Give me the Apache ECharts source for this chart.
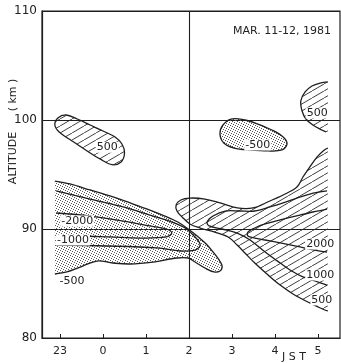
<!DOCTYPE html>
<html>
<head>
<meta charset="utf-8">
<script src="https://cdn.jsdelivr.net/npm/echarts@6/dist/echarts.min.js"></script>
<style>
html, body { margin: 0; padding: 0; background: #fff; }
#chart { width: 341px; height: 363px; }
</style>
</head>
<body>
<div id="chart"></div>
<script>
// x in hours JST, 0 = midnight, negative = previous evening (-1 = 23h)
var hourMin = -1.419, hourMax = 5.512;
var altMin = 80, altMax = 110;

// +500 blob, upper left (closed)
var pos500UpperLeft = [
    [-1.12, 99.54], [-1.05, 100.18], [-0.86, 100.46], [-0.60, 100.09], [-0.30, 99.54],
    [0.00, 98.99], [0.28, 98.44], [0.44, 97.80], [0.50, 96.97], [0.42, 96.15],
    [0.21, 95.90], [-0.07, 96.43], [-0.37, 97.16], [-0.72, 98.08], [-1.02, 98.90]
];
// -500 blob, upper middle (closed)
var neg500Upper = [
    [2.72, 98.72], [2.79, 99.54], [2.98, 100.09], [3.30, 100.0], [3.60, 99.63],
    [3.93, 99.08], [4.19, 98.44], [4.28, 97.80], [4.16, 97.25], [3.84, 97.16],
    [3.42, 97.25], [3.05, 97.43], [2.81, 97.89]
];
// +500 blob, upper right (open at end of data)
var pos500UpperRight = [
    [5.23, 103.49], [5.05, 103.39], [4.86, 103.12], [4.70, 102.57], [4.60, 101.74],
    [4.63, 100.83], [4.72, 100.09], [4.88, 99.54], [5.09, 99.08], [5.19, 98.90]
];
// -500 band, lower left (open at start of data)
var neg500Lower = [
    [-1.12, 94.40], [-0.77, 94.13], [-0.30, 93.58], [0.16, 93.03], [0.63, 92.39],
    [1.09, 91.74], [1.44, 91.19], [1.74, 90.64], [1.98, 90.00], [2.19, 89.36],
    [2.40, 88.62], [2.56, 87.89], [2.70, 87.16], [2.77, 86.61], [2.72, 86.15],
    [2.58, 86.06], [2.37, 86.42], [2.14, 86.97], [1.98, 87.34], [1.72, 87.34],
    [1.16, 86.97], [0.63, 86.79], [0.23, 86.88], [-0.14, 87.06], [-0.53, 86.51],
    [-0.84, 86.06], [-1.12, 85.87]
];
var neg1000 = [
    [-1.09, 93.49], [-0.30, 92.75], [0.47, 92.02], [1.09, 91.28], [1.60, 90.64],
    [1.91, 90.09], [2.14, 89.27], [2.26, 88.53], [2.14, 88.07], [1.79, 87.98],
    [1.26, 88.26], [0.09, 88.44], [-1.09, 88.53]
];
var neg2000 = [
    [-1.09, 91.47], [-0.30, 91.19], [0.47, 90.73], [1.09, 90.28], [1.47, 90.00],
    [1.60, 89.63], [1.47, 89.27], [0.86, 89.17], [0.16, 89.27], [-0.53, 89.36],
    [-1.09, 89.36]
];
// +500 region, lower right (open at end of data)
var pos500Lower = [
    [5.23, 97.43], [5.12, 97.16], [4.98, 96.61], [4.81, 95.69], [4.65, 94.77],
    [4.51, 93.85], [4.19, 93.12], [3.88, 92.57], [3.49, 91.93], [3.12, 91.93],
    [2.72, 92.39], [2.37, 92.75], [2.02, 92.84], [1.81, 92.66], [1.70, 92.20],
    [1.72, 91.65], [1.84, 91.10], [2.02, 90.46], [2.26, 90.09], [2.60, 89.72],
    [2.91, 89.27], [3.12, 88.53], [3.30, 87.80], [3.53, 86.88], [3.84, 85.78],
    [4.12, 84.86], [4.42, 84.04], [4.81, 83.21], [5.16, 82.57], [5.23, 82.48]
];
var pos1000 = [
    [5.21, 93.49], [4.81, 93.21], [4.51, 92.84], [4.19, 92.39], [3.88, 92.02],
    [3.53, 91.65], [3.19, 91.65], [2.84, 91.65], [2.56, 91.19], [2.42, 90.64],
    [2.47, 90.28], [2.77, 90.00], [3.12, 89.63], [3.42, 88.99], [3.77, 87.89],
    [4.12, 86.88], [4.35, 86.24], [4.65, 85.60], [4.93, 85.23], [5.21, 84.86]
];
var pos2000 = [
    [5.21, 91.83], [4.88, 91.56], [4.58, 91.28], [4.12, 90.83], [3.77, 90.46],
    [3.53, 90.09], [3.37, 89.72], [3.37, 89.36], [3.53, 89.17], [3.77, 88.99],
    [4.12, 88.72], [4.58, 88.35], [4.93, 88.07], [5.21, 87.89]
];

var labelHours = [0.10, 3.60, 4.98, -0.60, -0.70, -0.72, 5.05, 5.05, 5.09];
var labelAlts  = [97.50, 97.71, 100.64, 90.73, 88.99, 85.23, 88.62, 85.78, 83.49];
var labelTexts = ['500', '-500', '500', '-2000', '-1000', '-500', '2000', '1000', '500'];

var lineColor = '#1e1e1e';
var font = 'DejaVu Sans';

function hatch() {
    var c = document.createElement('canvas');
    c.width = 12; c.height = 7;
    var g = c.getContext('2d');
    g.strokeStyle = '#2a2a2a';
    g.lineWidth = 0.9;
    g.beginPath();
    for (var k = -1; k <= 1; k++) {
        g.moveTo(k * 12, 7);
        g.lineTo(k * 12 + 12, 0);
    }
    g.stroke();
    return { image: c, repeat: 'repeat' };
}

function dots() {
    var c = document.createElement('canvas');
    c.width = 5; c.height = 5;
    var g = c.getContext('2d');
    g.fillStyle = '#555';
    [[0, 0], [2, 1], [4, 2], [1, 3], [3, 4]].forEach(function (d) { g.fillRect(d[0], d[1], 1, 1); });
    return { image: c, repeat: 'repeat' };
}

// one custom series draws a whole contour (filled polygon and/or outline)
function contour(points, fill, stroke, closeAt) {
    return {
        type: 'custom',
        coordinateSystem: 'cartesian2d',
        silent: true,
        clip: true,
        data: points,
        renderItem: function (params, api) {
            if (params.dataIndex !== 0) return;
            var pts = points.map(function (p) { return api.coord(p); });
            var children = [];
            if (fill) {
                var fpts = pts.slice();
                if (closeAt !== undefined) {
                    fpts.push(api.coord([closeAt, points[points.length - 1][1]]));
                    fpts.push(api.coord([closeAt, points[0][1]]));
                }
                children.push({
                    type: 'polygon',
                    shape: { points: fpts, smooth: 0.35 },
                    style: { fill: fill, stroke: null }
                });
            }
            if (stroke) {
                children.push({
                    type: stroke === 'closed' ? 'polygon' : 'polyline',
                    shape: { points: pts, smooth: 0.35 },
                    style: { fill: null, stroke: lineColor, lineWidth: 1.3 }
                });
            }
            return { type: 'group', children: children };
        }
    };
}

var chart = echarts.init(document.getElementById('chart'));

var hatchFill = hatch();
var dotFill = dots();

option = {
    backgroundColor: '#fff',
    animation: false,
    grid: {
        left: 42, right: 1, top: 11, bottom: 25,
        show: true,
        borderColor: lineColor,
        borderWidth: 1.2
    },
    xAxis: {
        type: 'value',
        min: hourMin,
        max: hourMax,
        splitNumber: 7,
        axisLine: { onZero: false, lineStyle: { color: lineColor, width: 1.2 } },
        axisTick: { inside: true, length: 4, lineStyle: { color: lineColor } },
        axisLabel: {
            showMinLabel: false,
            showMaxLabel: false,
            margin: 8,
            fontFamily: font,
            fontSize: 11,
            color: '#222',
            formatter: function (v) {
                if (Math.abs(v - Math.round(v)) > 1e-6) return '';
                v = Math.round(v);
                return v < 0 ? String(24 + v) : String(v);
            }
        },
        splitLine: { show: false }
    },
    yAxis: {
        type: 'value',
        min: altMin,
        max: altMax,
        interval: 10,
        axisLine: { show: true, onZero: false, lineStyle: { color: lineColor, width: 1.2 } },
        axisTick: { show: false },
        axisLabel: { margin: 5, fontFamily: font, fontSize: 12, color: '#222' },
        splitLine: { lineStyle: { color: lineColor, width: 1.1 } }
    },
    graphic: [
        { type: 'text', x: 282, y: 31,
          style: { text: 'MAR. 11-12, 1981', font: '11px ' + font, fill: '#222', align: 'center', verticalAlign: 'middle' } },
        { type: 'text', x: 13, y: 158, rotation: Math.PI / 2,
          style: { text: 'ALTITUDE', font: '11px ' + font, fill: '#222', align: 'center', verticalAlign: 'middle' } },
        { type: 'text', x: 13, y: 95, rotation: Math.PI / 2,
          style: { text: '( km )', font: '11px ' + font, fill: '#222', align: 'center', verticalAlign: 'middle' } },
        { type: 'text', x: 294, y: 357,
          style: { text: 'J S T', font: '11px ' + font, fill: '#222', align: 'center', verticalAlign: 'middle' } }
    ],
    series: [
        contour(pos500UpperLeft, hatchFill, 'closed'),
        contour(neg500Upper, dotFill, 'closed'),
        contour(pos500UpperRight, hatchFill, 'open', 5.23),
        contour(neg500Lower, dotFill, 'open', -1.12),
        contour(pos500Lower, hatchFill, 'open', 5.23),
        contour(neg1000, null, 'open'),
        contour(neg2000, null, 'open'),
        contour(pos1000, null, 'open'),
        contour(pos2000, null, 'open'),
        {
            type: 'custom',
            coordinateSystem: 'cartesian2d',
            silent: true,
            data: labelHours.map(function (h, i) { return [h, labelAlts[i]]; }),
            renderItem: function (params, api) {
                var p = api.coord([api.value(0), api.value(1)]);
                return {
                    type: 'text', x: p[0], y: p[1],
                    style: {
                        text: labelTexts[params.dataIndex],
                        font: '11px ' + font, fill: '#222',
                        align: 'center', verticalAlign: 'middle',
                        backgroundColor: '#fff', padding: [0, 1]
                    }
                };
            },
            markLine: {
                silent: true,
                symbol: 'none',
                label: { show: false },
                lineStyle: { color: lineColor, type: 'solid', width: 1.1 },
                data: [{ xAxis: 2 }]
            }
        }
    ]
};

chart.setOption(option);
</script>
</body>
</html>
